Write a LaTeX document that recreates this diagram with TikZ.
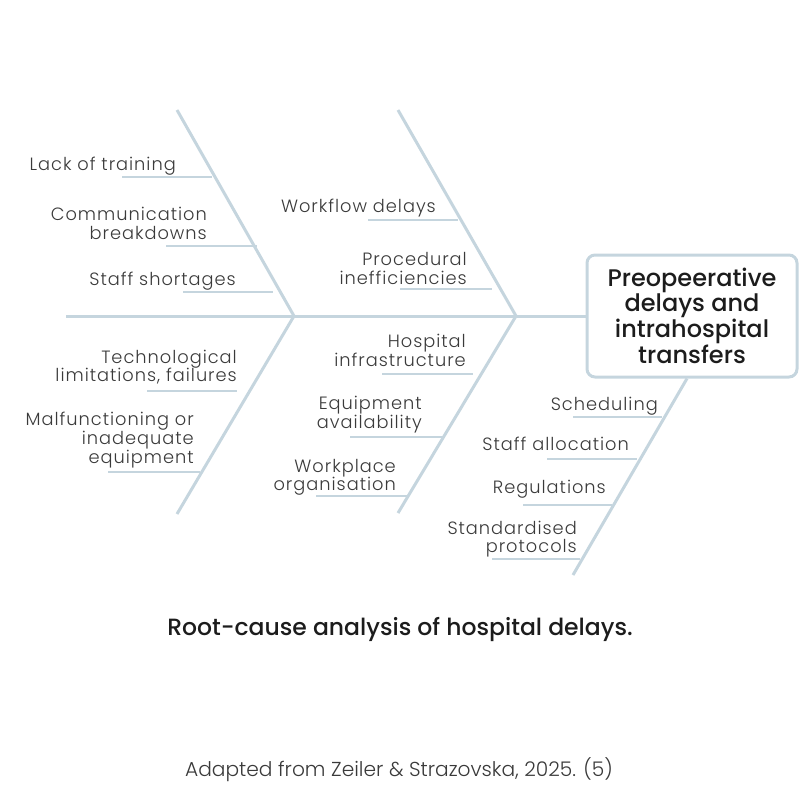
\documentclass[tikz,border=0pt]{standalone}
\usepackage{fontspec}
\setmainfont{Poppins}[UprightFont=* Light, BoldFont=* Medium]
\usetikzlibrary{calc}
\definecolor{bonec}{RGB}{197,213,222}
\definecolor{lblc}{RGB}{58,58,58}
\definecolor{ttlc}{RGB}{28,28,28}
\begin{document}
\begin{tikzpicture}[x=1pt,y=-1pt,
  bone/.style={draw=bonec, line width=3pt},
  twig/.style={draw=bonec, line width=2.8pt},
  lab/.style={anchor=base east, align=right, inner sep=0pt, text=lblc,
    font=\fontsize{17.8}{18.7}\selectfont\addfontfeature{LetterSpace=5.5}},
  headbox/.style={draw=bonec, line width=3pt, rounded corners=8pt,
    minimum width=210pt, minimum height=122pt, align=center, inner sep=0pt,
    text=ttlc, font=\bfseries\fontsize{24}{23.4}\selectfont}]
\useasboundingbox (0,0) rectangle (800,800);

% head
\node[headbox] (head) at (692,316) {Preopeerative\\delays and\\intrahospital\\transfers};

% spine
\coordinate (tail) at (66,316);
\draw[bone] (tail) -- (head.west);

% main bones
\coordinate (t1) at (177,110);
\coordinate (j1) at (294,316);
\coordinate (b1) at (177,514);
\coordinate (t2) at (398,110);
\coordinate (j2) at (516,316);
\coordinate (b2) at (398,513);
\coordinate (b3) at (573,575);
\draw[bone] (t1) -- (j1) -- (b1);
\draw[bone] (t2) -- (j2) -- (b2);
\draw[bone] ([xshift=-5pt]head.south) -- (b3);

% twigs
\coordinate (a1) at (122,177); \coordinate (a1e) at (212,177);
\coordinate (a2) at (166,246); \coordinate (a2e) at (257,246);
\coordinate (a3) at (183,292); \coordinate (a3e) at (273,292);
\coordinate (c1) at (368,220); \coordinate (c1e) at (458,220);
\coordinate (c2) at (400,289); \coordinate (c2e) at (492,289);
\coordinate (d1) at (147,391); \coordinate (d1e) at (237,391);
\coordinate (d2) at (108,472); \coordinate (d2e) at (200,472);
\coordinate (e1) at (382,374); \coordinate (e1e) at (473,374);
\coordinate (e2) at (350,437); \coordinate (e2e) at (442,437);
\coordinate (e3) at (316,496); \coordinate (e3e) at (408,496);
\coordinate (f1) at (573,417); \coordinate (f1e) at (662,417);
\coordinate (f2) at (547,459); \coordinate (f2e) at (637,459);
\coordinate (f3) at (523,505); \coordinate (f3e) at (612,505);
\coordinate (f4) at (492,559); \coordinate (f4e) at (580,559);
\foreach \p in {a1,a2,a3,c1,c2,d1,d2,e1,e2,e3,f1,f2,f3,f4}
  \draw[twig] (\p) -- (\p e);

% labels (anchor = baseline of the last line, right edge)
\node[lab] (la1) at (176,170.7) {Lack of training};
\node[lab] (la2) at (207,239.3) {Communication\\breakdowns};
\node[lab] (la3) at (236,285) {Staff shortages};
\node[lab] (lc1) at (436,212.7) {Workflow delays};
\node[lab] (lc2) at (467,284.3) {Procedural\\inefficiencies};
\node[lab] (ld1) at (237,381.7) {Technological\\limitations, failures};
\node[lab] (ld2) at (194,463.3) {Malfunctioning or\\inadequate\\equipment};
\node[lab, font=\fontsize{17.8}{16}\selectfont\addfontfeature{LetterSpace=5.5}] (le1) at (466,366.7) {Hospital\\infrastructure};
\node[lab] (le2) at (422,428.3) {Equipment\\availability};
\node[lab] (le3) at (396,490.7) {Workplace\\organisation};
\node[lab] (lf1) at (658,410) {Scheduling};
\node[lab] (lf2) at (629,450.7) {Staff allocation};
\node[lab] (lf3) at (606,493.3) {Regulations};
\node[lab] (lf4) at (577,552.7) {Standardised\\protocols};

% captions
\node[anchor=base, inner sep=0pt, text=ttlc, font=\bfseries\fontsize{23.5}{28}\selectfont] (title) at (400,635) {Root-cause analysis of hospital delays.};
\node[anchor=base, inner sep=0pt, text=lblc, font=\fontsize{20.2}{24}\selectfont] (source) at (399,776.7) {Adapted from Zeiler \& Strazovska, 2025. (5)};
\end{tikzpicture}
\end{document}
